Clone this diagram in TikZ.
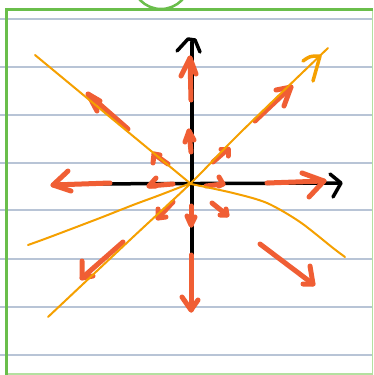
\documentclass[tikz,border=0pt]{standalone}
\definecolor{rd}{RGB}{240,94,52}
\definecolor{org}{RGB}{245,160,0}
\definecolor{gridc}{RGB}{184,196,214}
\definecolor{grn}{RGB}{106,190,75}
\definecolor{lgrn}{RGB}{180,224,160}
\tikzset{
  redarr/.style={draw=rd, line width=5pt, line cap=round, line join=round},
  orgline/.style={draw=org, line width=2pt, line cap=round, line join=round},
  axisline/.style={draw=black, line width=3.5pt, line cap=round, line join=round},
  ruled/.style={draw=gridc, line width=1.5pt},
}
\newcommand\myarr[4]{\draw[redarr] #1 -- #2; \draw[redarr] #3 -- #2 -- #4;}
\begin{document}
\begin{tikzpicture}[x=1pt,y=-1pt]
\useasboundingbox (0,0) rectangle (373,375);
\fill[white] (0,0) rectangle (373,375);
% ruled lines
\foreach \yy in {19,67,115,163,210,259,307,355}
  \draw[ruled] (0,\yy) -- (372,\yy);
% green frame
\draw[grn, line width=2.5pt] (161,-20) circle (29);
\draw[lgrn, line width=1.5pt] (372.3,9) -- (372.3,375);
\draw[lgrn, line width=1.5pt] (7,374) -- (372.3,374);
\draw[grn, line width=3pt] (5,9) -- (373,9);
\draw[grn, line width=3pt] (6.5,9) -- (6.5,375);
% axes
\draw[axisline] (192,42) -- (192,300);
\draw[axisline] (60,184) -- (339,183);
\draw[axisline] (177,51) -- (188,39) -- (195,40) -- (200,52);
\draw[axisline] (330,174) -- (341,183) -- (333,197);
% red arrows: big
\myarr{(191,100)}{(190,58)}{(181,76)}{(196,74)}
\myarr{(191,255)}{(191,310)}{(182,297)}{(198,300)}
\myarr{(267,183)}{(324,181)}{(302,173)}{(309,197)}
\myarr{(110,183)}{(53,185)}{(68,171)}{(71,191)}
\myarr{(128,129)}{(88,94)}{(97,111)}{(100,101)}
\myarr{(255,121)}{(291,87)}{(276,90)}{(284,106)}
\myarr{(260,244)}{(313,284)}{(310,266)}{(303,284)}
\myarr{(123,242)}{(82,278)}{(82,261)}{(93,276)}
% red arrows: small
\myarr{(191,152)}{(189,131)}{(185,142)}{(194,140)}
\myarr{(191,206)}{(191,225)}{(187,216)}{(195,217)}
\myarr{(206,186)}{(223,184)}{(219,177)}{(219,186)}
\myarr{(173,184)}{(149,186)}{(156,178)}{(156,186)}
\myarr{(168,164)}{(154,154)}{(153,163)}{(160,155)}
\myarr{(213,162)}{(228,149)}{(221,149)}{(228,156)}
\myarr{(212,203)}{(227,215)}{(226,209)}{(220,215)}
\myarr{(173,202)}{(158,218)}{(158,209)}{(166,217)}
% orange curves (on top)
\draw[orgline] (35,55) -- (191,184);
\draw[orgline] plot[smooth] coordinates {(191,184) (233,193) (267,203) (300,222) (333,248) (345,257)};
\draw[orgline] plot[smooth] coordinates {(28,245) (50,237) (100,218) (133,205) (160,195) (191,183)};
\draw[orgline] plot[smooth] coordinates {(48,317) (132,238) (191,183) (240,133) (328,48)};
\draw[org, line width=3.5pt, line cap=round, line join=round] (303,61) .. controls (310,56) .. (320,56) -- (313,81);
\end{tikzpicture}
\end{document}
